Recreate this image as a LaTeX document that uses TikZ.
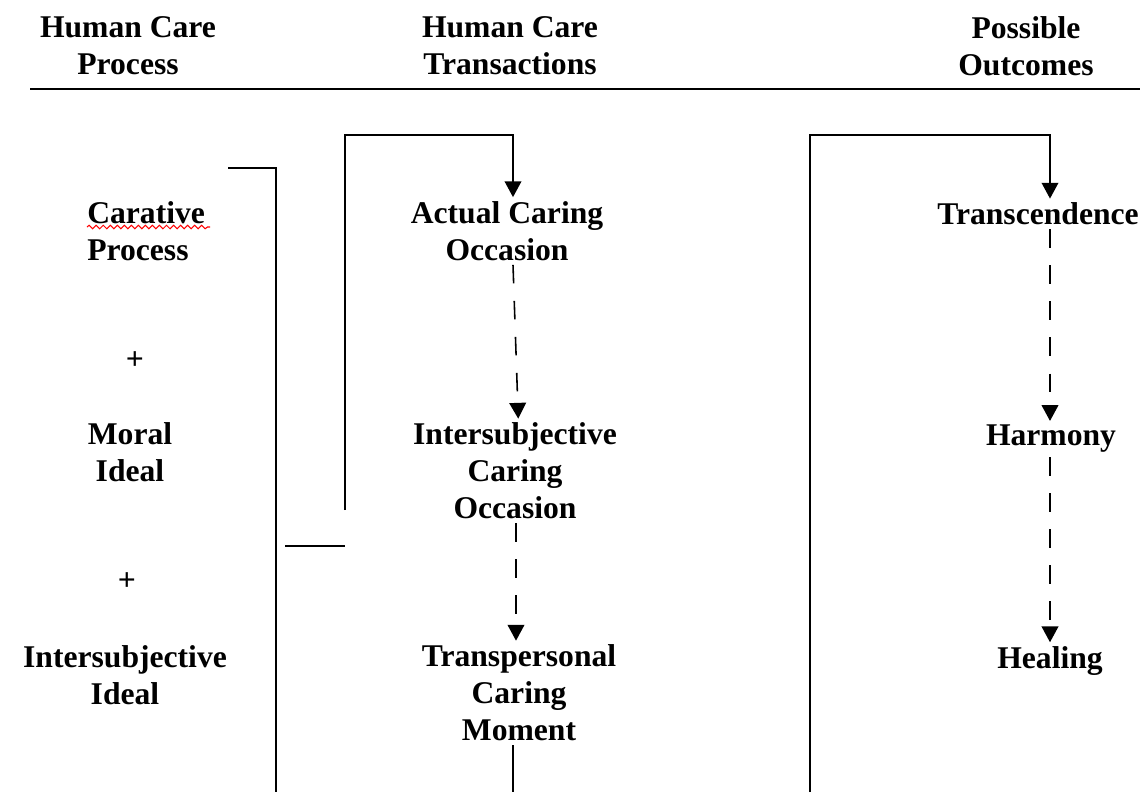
\documentclass[tikz,border=0pt]{standalone}
\usepackage{fontspec}
\setmainfont{Liberation Serif}
\usetikzlibrary{calc, arrows.meta, decorations.pathmorphing}

\begin{document}
\begin{tikzpicture}[x = 0.02cm, y = -0.02cm, line width = 0.9pt,
	phrase/.style = {font = \fontsize{18pt}{21pt}\selectfont\bfseries, align = center, inner sep = 2pt},
	tip/.style = {-{Triangle[width = 9.5pt, length = 9pt]}},
	dashedtip/.style = {tip, dash pattern = on 10.5pt off 10pt}]
	\useasboundingbox (0,0) rectangle (1140,792);
	\begin{scope}
		\node [phrase] (hcp) at (128,46) {Human Care\\Process};
		\node [phrase] (hct) at (510,46) {Human Care\\Transactions};
		\node [phrase] (po) at (1026,46) {Possible\\Outcomes};
		\coordinate (ruleL) at (30,89);
		\coordinate (ruleR) at (1140,89);
		\draw [line width = 0.6pt] (ruleL) -- (ruleR);
	\end{scope}
	\begin{scope}
		\node [phrase, align = left, anchor = west] (car) at (83,231) {Carative\\Process};
		\node [phrase] (plusA) at (135,361) {+};
		\node [phrase] (moral) at (130,452) {Moral\\Ideal};
		\node [phrase] (plusB) at (127,582) {+};
		\node [phrase] (isi) at (125,675) {Intersubjective\\Ideal};
		\draw [red, line width = 0.6pt, decorate, decoration = {snake, amplitude = 1pt, segment length = 4pt}] (87,227) -- (210,227);
	\end{scope}
	\begin{scope}
		\node [phrase] (act) at (507,231) {Actual Caring\\Occasion};
		\node [phrase] (inter) at (515,471) {Intersubjective\\Caring\\Occasion};
		\node [phrase] (tpm) at (519,693) {Transpersonal\\Caring\\Moment};
	\end{scope}
	\begin{scope}
		\node [phrase] (trans) at (1038,214) {Transcendence};
		\node [phrase] (harm) at (1051,439) {Harmony};
		\node [phrase] (heal) at (1050,661) {Healing};
	\end{scope}
	\begin{scope}
		\coordinate (brL) at (228,168);
		\coordinate (brR) at (276,168);
		\coordinate (brB) at (276,792);
		\coordinate (linkL) at (285,546);
		\coordinate (linkR) at (345,546);
		\coordinate (backB) at (345,510);
		\coordinate (backT) at (513,135);
		\coordinate (outB) at (810,792);
		\coordinate (outT) at (1050,135);
		\coordinate (endB) at (513,792);
		\draw (brL) -- (brR) -- (brB);
		\draw (linkL) -- (linkR);
		\draw [tip] (backB) |- (backT) -- (backT |- act.north);
		\draw [tip] (outB) |- (outT) -- (outT |- trans.north);
		\draw [dashedtip] (act.south -| backT) -- ([xshift = 3pt]inter.north -| backT);
		\draw [dashedtip] (inter.south -| 516,0) -- (tpm.north -| 516,0);
		\draw (tpm.south -| endB) -- (endB);
		\draw [dashedtip] (trans.south -| outT) -- (harm.north -| outT);
		\draw [dashedtip] (harm.south -| outT) -- (heal.north -| outT);
	\end{scope}
\end{tikzpicture}
\end{document}
